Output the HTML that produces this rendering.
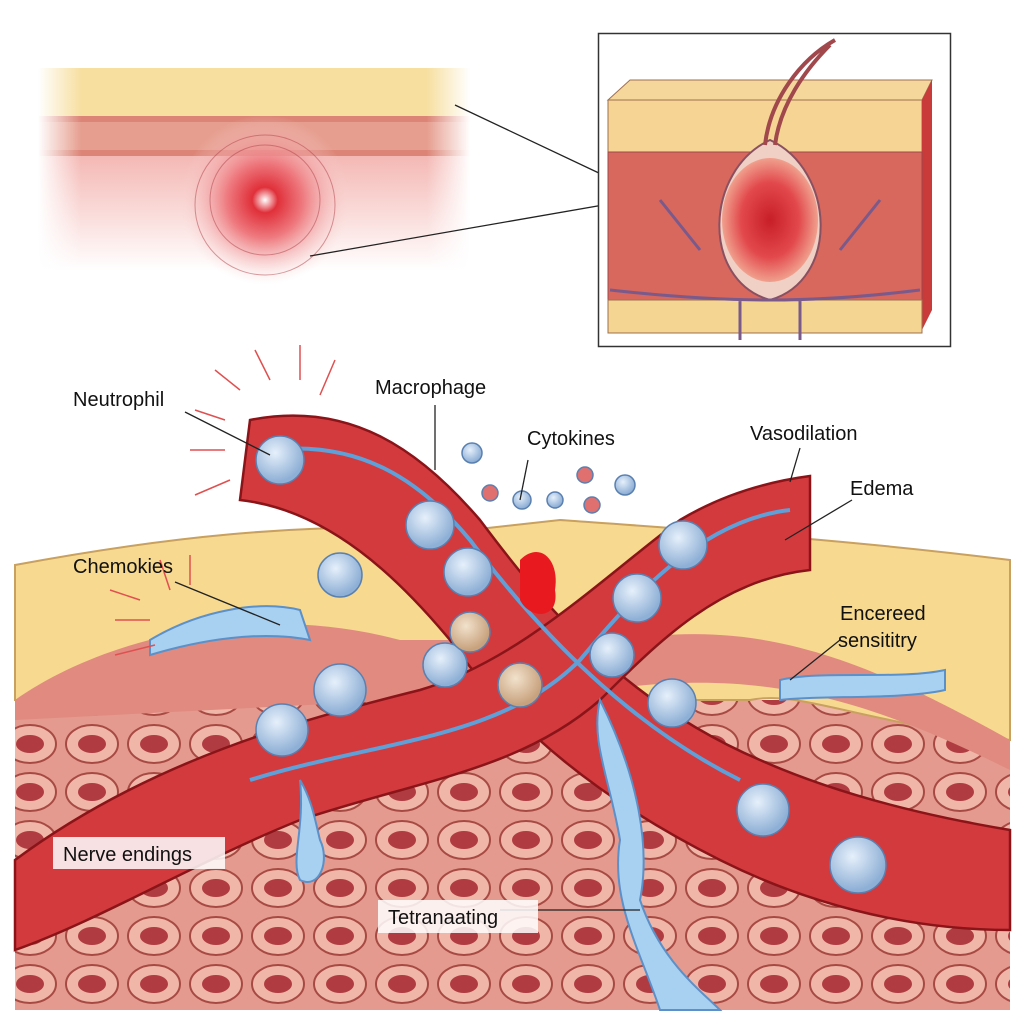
<!DOCTYPE html>
<html><head><meta charset="utf-8"><style>
html,body{margin:0;padding:0;background:#fff;}
svg{display:block;}
text{font-family:"Liberation Sans",sans-serif;font-size:20px;fill:#111;}
</style></head><body>
<svg width="1024" height="1024" viewBox="0 0 1024 1024" xmlns="http://www.w3.org/2000/svg">
<defs>
<radialGradient id="spot" cx="50%" cy="50%" r="50%">
<stop offset="0" stop-color="#fff"/><stop offset="0.15" stop-color="#e0303a"/><stop offset="0.45" stop-color="#ee7b80"/><stop offset="1" stop-color="#f8d8d6" stop-opacity="0"/></radialGradient>
<linearGradient id="fade" x1="0" y1="0" x2="0" y2="1"><stop offset="0" stop-color="#f4b8b4"/><stop offset="1" stop-color="#fff"/></linearGradient>
<linearGradient id="fadeL" x1="0" y1="0" x2="1" y2="0"><stop offset="0" stop-color="#fff"/><stop offset="0.1" stop-color="#fff" stop-opacity="0"/><stop offset="0.9" stop-color="#fff" stop-opacity="0"/><stop offset="1" stop-color="#fff"/></linearGradient>
<radialGradient id="cell" cx="40%" cy="35%" r="60%"><stop offset="0" stop-color="#e6f0fb"/><stop offset="1" stop-color="#8fb0d6"/></radialGradient>
<radialGradient id="cellb" cx="40%" cy="35%" r="60%"><stop offset="0" stop-color="#f2e2cc"/><stop offset="1" stop-color="#c8a27e"/></radialGradient>
<radialGradient id="bulb" cx="50%" cy="50%" r="50%"><stop offset="0" stop-color="#c81e28"/><stop offset="0.6" stop-color="#e2484c"/><stop offset="1" stop-color="#f0a08e"/></radialGradient>
<pattern id="cells" width="62" height="48" patternUnits="userSpaceOnUse">
<rect width="62" height="48" fill="#e49a8e"/>
<ellipse cx="30" cy="24" rx="26" ry="19" fill="#f0b6a8" stroke="#a84a44" stroke-width="2"/>
<ellipse cx="30" cy="24" rx="14" ry="9" fill="#b03c42"/>
</pattern>
</defs>

<rect x="38" y="68" width="432" height="50" fill="#f7dfa0"/>
<rect x="38" y="116" width="432" height="40" fill="#dc8577"/>
<rect x="38" y="122" width="432" height="28" fill="#e9a89a" opacity="0.7"/>
<rect x="38" y="156" width="432" height="115" fill="url(#fade)"/>
<circle cx="265" cy="200" r="85" fill="url(#spot)"/>
<g fill="none" stroke="#b04048" stroke-width="1" opacity="0.5">
<circle cx="265" cy="200" r="55"/><circle cx="265" cy="205" r="70"/></g>
<rect x="38" y="68" width="432" height="205" fill="url(#fadeL)"/>
<line x1="455" y1="105" x2="620" y2="183" stroke="#222" stroke-width="1.3"/>
<line x1="310" y1="256" x2="632" y2="200" stroke="#222" stroke-width="1.3"/>

<rect x="598.5" y="33.5" width="352" height="313" fill="#fff" stroke="#333" stroke-width="1.5"/>
<polygon points="608,100 630,80 932,80 922,100" fill="#f5d79c" stroke="#a07050"/>
<rect x="608" y="100" width="314" height="52" fill="#f5d494" stroke="#a07050"/>
<polygon points="922,100 932,80 932,310 922,330" fill="#c93a3a"/>
<rect x="608" y="152" width="314" height="150" fill="#d8675e" stroke="#a04848"/>
<rect x="608" y="300" width="314" height="33" fill="#f4d592" stroke="#a07050"/>
<path d="M770,140 C705,170 700,280 770,300 C840,280 835,170 770,140Z" fill="#f0d0c4" stroke="#8a5060" stroke-width="2"/>
<ellipse cx="770" cy="220" rx="48" ry="62" fill="url(#bulb)"/>
<path d="M765,145 C770,100 800,60 835,40 M775,145 C780,105 805,70 830,45" stroke="#a0484c" stroke-width="4" fill="none"/>
<path d="M740,300 L740,340 M800,300 L800,340 M660,200 L700,250 M880,200 L840,250 M610,290 Q700,300 770,300 Q840,300 920,290" stroke="#7a5a8a" stroke-width="3" fill="none"/>

<rect x="15" y="700" width="995" height="310" fill="url(#cells)"/>
<path d="M15,565 C150,540 300,520 470,530 L560,520 C700,530 850,540 1010,560 L1010,740 C850,720 800,690 750,700 L15,700Z" fill="#f7d98f" stroke="#c8a060" stroke-width="2"/>
<path d="M15,700 C100,640 250,600 400,640 L620,640 C750,620 850,650 1010,740 L1010,770 C850,690 750,670 600,690 L15,720Z" fill="#e08a80"/>

<g stroke="#8a1418" stroke-width="2.5">
<path d="M250,420 C350,400 420,450 480,520 C540,600 620,700 760,760 C850,800 950,820 1010,830 L1010,930 C900,930 800,900 720,860 C620,810 520,740 450,640 C400,580 330,510 240,500Z" fill="#d23a3e"/>
<path d="M15,860 C150,760 300,720 420,690 C520,660 600,580 680,520 C730,490 780,480 810,476 L810,570 C720,580 660,640 600,700 C520,770 420,780 300,820 C200,860 100,920 15,950Z" fill="#d23a3e"/>
</g>
<path d="M270,450 C360,440 420,480 470,540 C530,620 620,720 740,780" stroke="#5fa0d8" stroke-width="4" fill="none"/>
<path d="M790,510 C700,520 630,600 580,660 C500,740 380,740 250,780" stroke="#5fa0d8" stroke-width="4" fill="none"/>
<path d="M520,560 C540,540 560,560 555,590 C560,620 530,620 520,600Z" fill="#e81a20"/>

<path d="M600,700 C640,780 650,850 640,900 C660,960 700,990 720,1010 L660,1010 C640,950 610,900 620,840 C610,780 590,740 600,700Z" fill="#a8d0f0" stroke="#5c90c8" stroke-width="2"/>
<path d="M300,780 C305,830 290,860 300,880 C320,890 330,860 320,840 C315,820 312,800 300,780Z" fill="#a8d0f0" stroke="#5c90c8" stroke-width="2"/>
<path d="M150,640 C200,610 260,600 300,610 L310,640 C260,630 200,640 150,655Z" fill="#a8d0f0" stroke="#5c90c8" stroke-width="2"/>
<path d="M780,680 C820,670 900,680 945,670 L945,690 C900,700 820,695 780,700Z" fill="#a8d0f0" stroke="#5c90c8" stroke-width="2"/>

<g stroke="#5a80b0" stroke-width="1.5">
<circle cx="280" cy="460" r="24" fill="url(#cell)"/>
<circle cx="430" cy="525" r="24" fill="url(#cell)"/>
<circle cx="340" cy="575" r="22" fill="url(#cell)"/>
<circle cx="468" cy="572" r="24" fill="url(#cell)"/>
<circle cx="445" cy="665" r="22" fill="url(#cell)"/>
<circle cx="340" cy="690" r="26" fill="url(#cell)"/>
<circle cx="282" cy="730" r="26" fill="url(#cell)"/>
<circle cx="683" cy="545" r="24" fill="url(#cell)"/>
<circle cx="637" cy="598" r="24" fill="url(#cell)"/>
<circle cx="612" cy="655" r="22" fill="url(#cell)"/>
<circle cx="672" cy="703" r="24" fill="url(#cell)"/>
<circle cx="763" cy="810" r="26" fill="url(#cell)"/>
<circle cx="858" cy="865" r="28" fill="url(#cell)"/>
<circle cx="470" cy="632" r="20" fill="url(#cellb)"/>
<circle cx="520" cy="685" r="22" fill="url(#cellb)"/>
<circle cx="472" cy="453" r="10" fill="url(#cell)"/>
<circle cx="522" cy="500" r="9" fill="url(#cell)"/>
<circle cx="555" cy="500" r="8" fill="url(#cell)"/>
<circle cx="625" cy="485" r="10" fill="url(#cell)"/>
<circle cx="490" cy="493" r="8" fill="#e07070"/>
<circle cx="585" cy="475" r="8" fill="#e07070"/>
<circle cx="592" cy="505" r="8" fill="#e07070"/>
</g>
<g stroke="#e05050" stroke-width="1.5" fill="none">
<path d="M270,380 L255,350 M240,390 L215,370 M225,420 L195,410 M225,450 L190,450 M230,480 L195,495 M300,380 L300,345 M320,395 L335,360 M140,600 L110,590 M150,620 L115,620 M155,645 L115,655 M170,590 L160,560 M190,585 L190,555"/>
</g>

<g stroke="#222" stroke-width="1.3" fill="none">
<line x1="185" y1="412" x2="270" y2="455"/>
<line x1="435" y1="405" x2="435" y2="470"/>
<line x1="528" y1="460" x2="520" y2="500"/>
<line x1="800" y1="448" x2="790" y2="482"/>
<line x1="852" y1="500" x2="785" y2="540"/>
<line x1="175" y1="582" x2="280" y2="625"/>
<line x1="840" y1="640" x2="790" y2="680"/>
<line x1="500" y1="910" x2="640" y2="910"/>
</g>

<text x="73" y="406">Neutrophil</text>
<text x="375" y="394">Macrophage</text>
<text x="527" y="445">Cytokines</text>
<text x="750" y="440">Vasodilation</text>
<text x="850" y="495">Edema</text>
<text x="73" y="573">Chemokies</text>
<text x="840" y="620">Encereed</text>
<text x="838" y="647">sensititry</text>
<rect x="53" y="837" width="172" height="32" fill="#fff" opacity="0.85"/>
<text x="63" y="861">Nerve endings</text>
<rect x="378" y="900" width="160" height="33" fill="#fff" opacity="0.85"/>
<text x="388" y="924">Tetranaating</text>
</svg>
</body></html>
